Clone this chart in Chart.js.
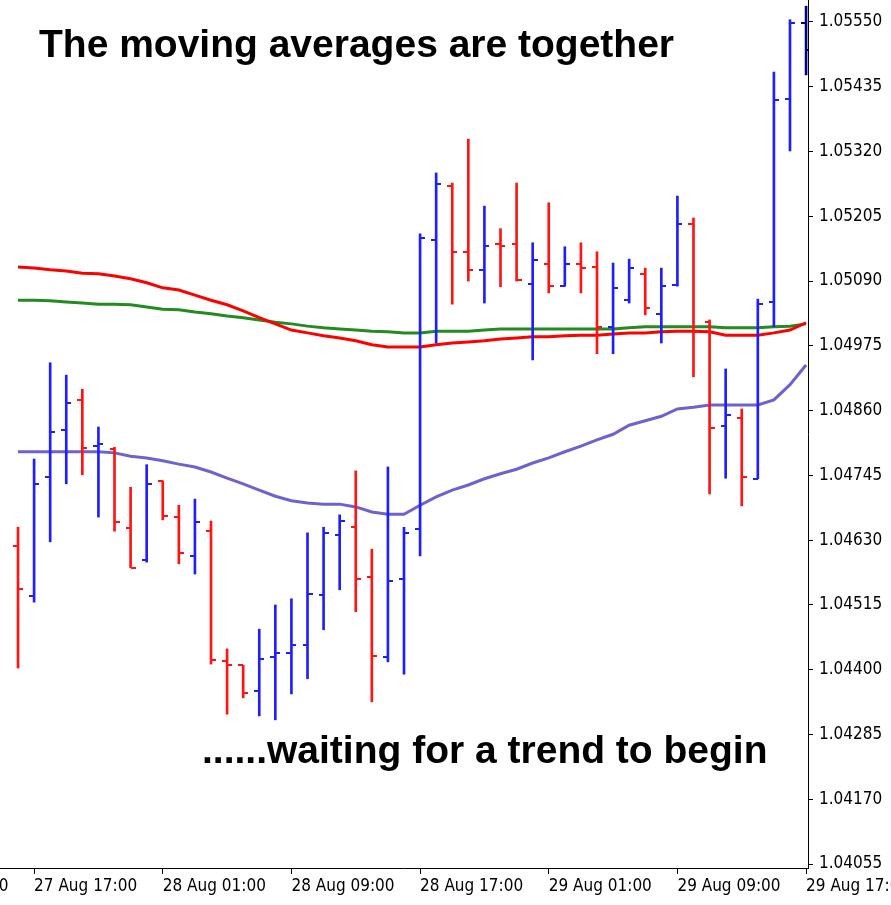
<!DOCTYPE html>
<html>
<head>
<meta charset="utf-8">
<script src="https://cdn.jsdelivr.net/npm/chart.js@4.4.1/dist/chart.umd.min.js"></script>
<style>
  html, body { margin: 0; padding: 0; background: #fff; }
  #wrap { position: relative; width: 891px; height: 905px; }
  .note { position: absolute; font-family: "Liberation Sans", Arial, sans-serif; font-weight: bold;
          font-size: 39px; line-height: 39px; color: #000; white-space: nowrap; }
</style>
</head>
<body>
<div id="wrap">
  <canvas id="chart"></canvas>
  <div class="note" style="left:39px; top:24px;">The moving averages are together</div>
  <div class="note" style="left:202px; top:730px;">......waiting for a trend to begin</div>
</div>
<script>
// EURUSD H1, 27 Aug 16:00 .. 29 Aug 17:00
var openP = [1.04620, 1.04531, 1.04742, 1.04826, 1.04879, 1.04797, 1.04792, 1.04652, 1.04595, 1.04735,
             1.04671, 1.04602, 1.04646, 1.04415, 1.04408, 1.04362, 1.04423, 1.04430, 1.04444, 1.04533,
             1.04639, 1.04653, 1.04565, 1.04423, 1.04561, 1.04650, 1.05163, 1.05259, 1.05142, 1.05110,
             1.05156, 1.05156, 1.05085, 1.05120, 1.05081, 1.05120, 1.05115, 1.05009, 1.05056, 1.05103,
             1.05032, 1.05083, 1.05191, 1.05017, 1.04833, 1.04847, 1.04739, 1.05053, 1.05413, 1.05548];
var highP = [1.04653, 1.04774, 1.04945, 1.04923, 1.04898, 1.04831, 1.04795, 1.04724, 1.04764, 1.04735,
             1.04692, 1.04703, 1.04664, 1.04437, 1.04408, 1.04472, 1.04515, 1.04526, 1.04643, 1.04653,
             1.04675, 1.04753, 1.04614, 1.04760, 1.04653, 1.05174, 1.05282, 1.05264, 1.05342, 1.05223,
             1.05183, 1.05264, 1.05158, 1.05229, 1.05151, 1.05158, 1.05142, 1.05122, 1.05129, 1.05113,
             1.05113, 1.05241, 1.05202, 1.05021, 1.04934, 1.04863, 1.05058, 1.05461, 1.05554, 1.05578];
var lowP  = [1.04403, 1.04520, 1.04627, 1.04730, 1.04746, 1.04671, 1.04646, 1.04581, 1.04591, 1.04666,
             1.04588, 1.04570, 1.04410, 1.04321, 1.04350, 1.04318, 1.04311, 1.04357, 1.04384, 1.04471,
             1.04542, 1.04503, 1.04343, 1.04414, 1.04392, 1.04602, 1.04980, 1.05049, 1.05090, 1.05051,
             1.05080, 1.05090, 1.04950, 1.05069, 1.05081, 1.05069, 1.04961, 1.04961, 1.05051, 1.05030,
             1.04980, 1.05081, 1.04920, 1.04712, 1.04740, 1.04691, 1.04739, 1.05009, 1.05321, 1.05456];
var closeP = [1.04543, 1.04730, 1.04822, 1.04874, 1.04794, 1.04801, 1.04662, 1.04581, 1.04730, 1.04673,
              1.04607, 1.04662, 1.04417, 1.04408, 1.04359, 1.04419, 1.04430, 1.04444, 1.04534, 1.04643,
              1.04664, 1.04561, 1.04424, 1.04558, 1.04643, 1.05167, 1.05262, 1.05142, 1.05110, 1.05152,
              1.05152, 1.05092, 1.05127, 1.05081, 1.05120, 1.05113, 1.05009, 1.05078, 1.05113, 1.05042,
              1.05081, 1.05191, 1.05000, 1.04829, 1.04852, 1.04742, 1.05049, 1.05412, 1.05548, 1.05500];

var maRed = [1.05115, 1.05113, 1.05110, 1.05108, 1.05104, 1.05103, 1.05099, 1.05094, 1.05087, 1.05078,
             1.05074, 1.05065, 1.05056, 1.05048, 1.05037, 1.05025, 1.05014, 1.05003, 1.04998, 1.04993,
             1.04989, 1.04984, 1.04977, 1.04973, 1.04973, 1.04973, 1.04977, 1.04980, 1.04982, 1.04984,
             1.04987, 1.04989, 1.04991, 1.04991, 1.04993, 1.04994, 1.04994, 1.04996, 1.04998, 1.04998,
             1.05000, 1.05001, 1.05001, 1.05000, 1.04994, 1.04994, 1.04994, 1.04998, 1.05003, 1.05016];
var maGreen = [1.05056, 1.05056, 1.05055, 1.05053, 1.05051, 1.05049, 1.05049, 1.05048, 1.05044, 1.05040,
               1.05039, 1.05035, 1.05032, 1.05028, 1.05025, 1.05021, 1.05017, 1.05014, 1.05010, 1.05007,
               1.05005, 1.05003, 1.05001, 1.05000, 1.04998, 1.04998, 1.05001, 1.05001, 1.05001, 1.05003,
               1.05005, 1.05005, 1.05005, 1.05005, 1.05005, 1.05005, 1.05005, 1.05005, 1.05007, 1.05009,
               1.05009, 1.05009, 1.05009, 1.05009, 1.05007, 1.05007, 1.05007, 1.05009, 1.05010, 1.05014];
var maPurple = [1.04787, 1.04787, 1.04787, 1.04787, 1.04787, 1.04787, 1.04785, 1.04779, 1.04776, 1.04771,
                1.04765, 1.04760, 1.04751, 1.04740, 1.04730, 1.04719, 1.04708, 1.04700, 1.04696, 1.04694,
                1.04694, 1.04689, 1.04680, 1.04676, 1.04676, 1.04692, 1.04707, 1.04719, 1.04728, 1.04739,
                1.04748, 1.04756, 1.04767, 1.04776, 1.04787, 1.04797, 1.04808, 1.04818, 1.04834, 1.04842,
                1.04850, 1.04863, 1.04866, 1.04870, 1.04870, 1.04870, 1.04870, 1.04879, 1.04906, 1.04941];

var tickBars = [-7, 1, 9, 17, 25, 33, 41, 49];
var tickLabels = ['27 Aug 09:00', '27 Aug 17:00', '28 Aug 01:00', '28 Aug 09:00',
                  '28 Aug 17:00', '29 Aug 01:00', '29 Aug 09:00', '29 Aug 17:00'];
var priceTicks = [1.04055, 1.04170, 1.04285, 1.04400, 1.04515, 1.04630, 1.04745,
                  1.04860, 1.04975, 1.05090, 1.05205, 1.05320, 1.05435, 1.05550];

var UP = 'rgb(30,30,255)', DOWN = 'rgb(255,20,20)', LAST = '#00008b';
var axisFont = { family: '"DejaVu Sans Condensed", "DejaVu Sans", sans-serif', size: 17 };

function barColor(i) {
    if (i === openP.length - 1) return LAST;
    return closeP[i] >= openP[i] ? UP : DOWN;
}

function series(arr) {
    return arr.map(function (v, i) { return { x: i, y: v }; });
}

// open tick to the left, close tick to the right of each bar
var ohlcTicks = {
    id: 'ohlcTicks',
    afterDatasetsDraw: function (chart) {
        var meta = chart.getDatasetMeta(0);
        var ys = chart.scales.y;
        var ctx = chart.ctx;
        var a = chart.chartArea;
        ctx.save();
        ctx.beginPath();
        ctx.rect(a.left, a.top, a.right - a.left, a.bottom - a.top);
        ctx.clip();
        ctx.lineWidth = 2;
        meta.data.forEach(function (bar, i) {
            var x = Math.round(bar.x);
            var yo = Math.round(ys.getPixelForValue(openP[i]));
            var yc = Math.round(ys.getPixelForValue(closeP[i]));
            ctx.strokeStyle = barColor(i);
            ctx.beginPath();
            ctx.moveTo(x - 5, yo);
            ctx.lineTo(x, yo);
            ctx.moveTo(x, yc);
            ctx.lineTo(x + 5, yc);
            ctx.stroke();
        });
        ctx.restore();
    }
};

new Chart(document.getElementById('chart'), {
    type: 'bar',
    data: {
        datasets: [{
            type: 'bar',
            data: highP.map(function (h, i) { return { x: i, y: [lowP[i], h] }; }),
            backgroundColor: openP.map(function (o, i) { return barColor(i); }),
            barThickness: 2,
            borderWidth: 0,
            order: 0
        }, {
            type: 'line',
            data: series(maPurple),
            borderColor: 'rgb(110,98,208)',
            borderWidth: 3,
            pointRadius: 0,
            tension: 0,
            order: 1
        }, {
            type: 'line',
            data: series(maGreen),
            borderColor: 'rgb(34,139,34)',
            borderWidth: 3,
            pointRadius: 0,
            tension: 0,
            order: 2
        }, {
            type: 'line',
            data: series(maRed),
            borderColor: 'rgb(255,0,0)',
            borderWidth: 3,
            pointRadius: 0,
            tension: 0,
            order: 1
        }]
    },
    options: {
        responsive: true,
        maintainAspectRatio: false,
        animation: false,
        layout: { padding: 0 },
        plugins: {
            legend: { display: false },
            tooltip: { enabled: false }
        },
        scales: {
            x: {
                type: 'linear',
                min: -1.12,
                max: 49.12,
                offset: false,
                afterBuildTicks: function (s) {
                    s.ticks = tickBars.map(function (v) { return { value: v }; });
                },
                afterFit: function (s) {
                    s.height = 37;
                    s.paddingLeft = 0;
                    s.paddingRight = 0;
                },
                grid: { drawOnChartArea: false, drawTicks: true, tickLength: 6, color: '#000', offset: false },
                border: { display: true, color: '#000', width: 1 },
                ticks: {
                    align: 'start',
                    autoSkip: false,
                    maxRotation: 0,
                    padding: 2,
                    color: '#000',
                    font: axisFont,
                    callback: function (v, i) { return tickLabels[i]; }
                }
            },
            y: {
                position: 'right',
                min: 1.04048,
                max: 1.05589,
                afterBuildTicks: function (s) {
                    s.ticks = priceTicks.map(function (v) { return { value: v }; });
                },
                afterFit: function (s) {
                    s.width = 83;
                    s.paddingTop = 0;
                    s.paddingBottom = 0;
                },
                grid: { drawOnChartArea: false, drawTicks: true, tickLength: 5, color: '#000' },
                border: { display: true, color: '#000', width: 1 },
                ticks: {
                    autoSkip: false,
                    padding: 6,
                    color: '#000',
                    font: axisFont,
                    callback: function (v) { return v.toFixed(5); }
                }
            }
        }
    },
    plugins: [ohlcTicks]
});
</script>
</body>
</html>
